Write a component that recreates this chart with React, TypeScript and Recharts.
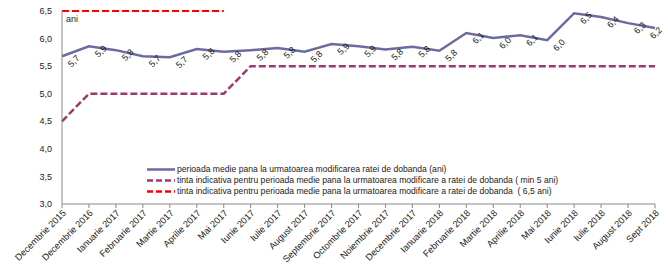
import { LineChart, Line, XAxis, YAxis, LabelList } from "recharts";

const months = [
  "Decembrie 2015",
  "Decembrie 2016",
  "Ianuarie 2017",
  "Februarie 2017",
  "Martie 2017",
  "Aprilie 2017",
  "Mai 2017",
  "Iunie 2017",
  "Iulie 2017",
  "August 2017",
  "Septembrie 2017",
  "Octombrie 2017",
  "Noiembrie 2017",
  "Decembrie 2017",
  "Ianuarie 2018",
  "Februarie 2018",
  "Martie 2018",
  "Aprilie 2018",
  "Mai 2018",
  "Iunie 2018",
  "Iulie 2018",
  "August 2018",
  "Sept 2018",
];

const perioada = [
  5.68, 5.86, 5.79, 5.68, 5.66, 5.81, 5.76, 5.79, 5.83, 5.76, 5.9, 5.86, 5.8,
  5.85, 5.78, 6.1, 6.01, 6.06, 5.97, 6.46, 6.39, 6.28, 6.19,
];

const tintaMin5 = [
  4.5, 5, 5, 5, 5, 5, 5, 5.5, 5.5, 5.5, 5.5, 5.5, 5.5, 5.5, 5.5, 5.5, 5.5, 5.5,
  5.5, 5.5, 5.5, 5.5, 5.5,
];

const tinta65 = [6.5, 6.5, 6.5, 6.5, 6.5, 6.5, 6.5];

const yTicks = [3, 3.5, 4, 4.5, 5, 5.5, 6, 6.5];

const legendNames = [
  "perioada medie pana la urmatoarea modificarea ratei de dobanda (ani)",
  "tinta indicativa pentru perioada medie pana la urmatoarea modificare a ratei de dobanda ( min 5 ani)",
  "tinta indicativa pentru perioada medie pana la urmatoarea modificare a ratei de dobanda  ( 6,5 ani)",
];

const BLUE = "#6b6b9f";
const MAROON = "#9c3a6e";
const RED = "#ff0000";

const data = months.map((m, i) => ({
  name: m,
  perioada: perioada[i],
  min5: tintaMin5[i],
  t65: i < tinta65.length ? tinta65[i] : null,
}));

const fmt = (v: number) => v.toFixed(1).replace(".", ",");

const XTick = ({ x, y, payload }: any) => (
  <g transform={`translate(${x + 1},${y})`}>
    <text
      x={0}
      y={0}
      dy={5}
      textAnchor="end"
      fontSize={9.2}
      fill="#222"
      transform="rotate(-45)"
    >
      {payload.value}
    </text>
  </g>
);

const ValueLabel = ({ x, y, value }: any) => {
  const cx = Math.min(x + 14, 658);
  const cy = y + 7;
  return (
    <text
      x={cx}
      y={cy}
      textAnchor="middle"
      fontSize={9}
      fill="#222"
      transform={`rotate(-45 ${cx} ${cy})`}
    >
      {fmt(value)}
    </text>
  );
};

const legendStyles = [
  { color: BLUE, dash: "" },
  { color: MAROON, dash: "6 3" },
  { color: RED, dash: "6 3" },
];

export default function App() {
  return (
    <div
      style={{
        position: "absolute",
        left: 0,
        top: 0,
        width: 668,
        height: 271,
        background: "#fff",
        fontFamily: "'Liberation Sans', Arial, sans-serif",
      }}
    >
      <LineChart
        width={668}
        height={271}
        data={data}
        margin={{ top: 11, right: 13, left: 0, bottom: 0 }}
      >
        <XAxis
          dataKey="name"
          interval={0}
          height={67}
          tick={<XTick />}
          tickSize={4}
          tickMargin={2}
          stroke="#888"
        />
        <YAxis
          width={62}
          domain={[3, 6.5]}
          ticks={yTicks}
          tickFormatter={fmt}
          tickLine={false}
          stroke="#888"
          tick={{ fontSize: 9, fill: "#222" }}
          tickMargin={4}
        />
        <Line
          dataKey="min5"
          stroke={MAROON}
          strokeWidth={2.5}
          strokeDasharray="7 3"
          dot={false}
          isAnimationActive={false}
        />
        <Line
          dataKey="t65"
          stroke={RED}
          strokeWidth={2}
          strokeDasharray="7 3"
          dot={false}
          isAnimationActive={false}
        />
        <Line
          dataKey="perioada"
          stroke={BLUE}
          strokeWidth={2.5}
          dot={false}
          isAnimationActive={false}
        >
          <LabelList dataKey="perioada" content={<ValueLabel />} />
        </Line>
      </LineChart>
      <div
        style={{
          position: "absolute",
          left: 66,
          top: 14,
          fontSize: 9,
          color: "#222",
        }}
      >
        ani
      </div>
      <div
        style={{
          position: "absolute",
          left: 147,
          top: 164,
          fontSize: 8.6,
          color: "#222",
          lineHeight: "11px",
        }}
      >
        {legendNames.map((n, i) => (
          <div key={n} style={{ display: "flex", alignItems: "center", whiteSpace: "pre" }}>
            <svg width={30} height={11}>
              <line
                x1={0}
                y1={5.5}
                x2={28}
                y2={5.5}
                stroke={legendStyles[i].color}
                strokeWidth={2.5}
                strokeDasharray={legendStyles[i].dash}
              />
            </svg>
            <span>{n}</span>
          </div>
        ))}
      </div>
    </div>
  );
}
